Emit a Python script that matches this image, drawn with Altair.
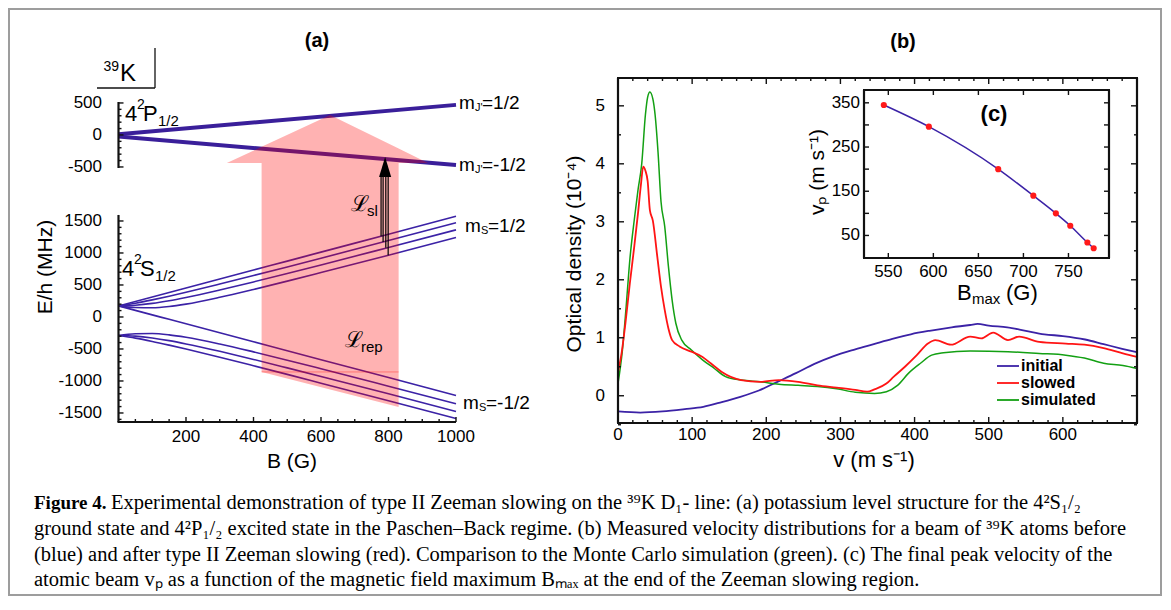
import altair as alt
import pandas as pd

SANS = "Liberation Sans"
SERIF = "Liberation Serif"
BLUE = "#3b22a6"
BLUE_DARK = "#3a1f9a"
RED = "#ff1414"
GREEN = "#13a013"
INK = "#111111"

OX, OY = 9, 9  # page position of the view origin
W, H = 1152, 586  # view size


def px(x):
    return x - OX


def py(y):
    return y - OY


# ---------------- panel (a): 39K levels ----------------
B_GRID = [0, 50, 100, 150, 200, 300, 400, 500, 600, 800, 1000]
S_UP_1 = [173, 243, 313, 383, 453, 593, 733, 873, 1013, 1293, 1573]
S_UP_2 = [173, 215, 267, 324, 385, 514, 647, 782, 918, 1194, 1471]
S_UP_3 = [173, 184, 212, 254, 305, 422, 548, 679, 813, 1086, 1361]
S_UP_4 = [173, 147, 144, 163, 201, 307, 430, 560, 694, 966, 1242]
S_DN_1 = [173, 103, 33, -37, -107, -247, -387, -527, -667, -947, -1227]
S_DN_2 = [-289, -263, -259, -279, -317, -422, -545, -675, -809, -1082, -1357]
S_DN_3 = [-289, -299, -328, -370, -421, -537, -663, -795, -929, -1201, -1476]
S_DN_4 = [-289, -330, -382, -440, -501, -629, -762, -897, -1034, -1309, -1586]

P_B = [0, 1000]
P_UP = [10, 470]
P_DN = [-25, -470]
P_SHIFT = 2844  # where the 0 MHz of the 4²P1/2 sub-axis sits on the shared scale

ARROW_B = [321, 424, 424, 627, 830, 830, 917]
ARROW_TOP = [2406, 2658, 2658, 3156, 2631, 2631, 2406]
ARROW_BOT = [2406, 2406, -859, -1132, -1406, 2406, 2406]

SL_B = [778, 784, 792, 799]
SL_E0 = [1262, 1172, 1080, 966]
SL_TOP = 2188
HEAD_B = [772, 790, 808]
HEAD_E = [2188, 2500, 2188]

# ---------------- panel (b): velocity distributions ----------------
V_INIT = [0, 30, 60, 90, 115, 140, 165, 190, 215, 240, 265, 290, 320, 345, 370,
          395, 420, 450, 475, 485, 500, 525, 550, 575, 600, 630, 655, 680, 700]
OD_INIT = [-0.27, -0.29, -0.27, -0.23, -0.19, -0.11, -0.02, 0.09, 0.24, 0.39, 0.55,
           0.68, 0.80, 0.89, 0.98, 1.06, 1.12, 1.18, 1.22, 1.24, 1.21, 1.18, 1.12,
           1.06, 1.03, 0.97, 0.89, 0.81, 0.75]

V_SLOW = [0, 5, 10, 16, 22, 27, 31, 34, 37, 40, 43, 47, 53, 58, 63, 68, 73, 83, 99,
          114, 125, 140, 166, 192, 217, 243, 269, 295, 320, 336, 346, 362, 372, 387,
          403, 418, 428, 449, 475, 490, 506, 526, 541, 568, 604, 629, 655, 681, 700]
OD_SLOW = [0.41, 0.75, 1.25, 1.94, 2.58, 3.15, 3.65, 3.95, 3.88, 3.70, 3.20, 3.02,
           2.40, 1.88, 1.48, 1.16, 0.96, 0.85, 0.76, 0.67, 0.56, 0.41, 0.27, 0.24,
           0.27, 0.24, 0.18, 0.14, 0.10, 0.07, 0.11, 0.21, 0.33, 0.50, 0.70, 0.90,
           0.96, 0.88, 1.02, 0.99, 1.09, 0.96, 1.02, 0.93, 0.90, 0.88, 0.82, 0.73, 0.67]

V_SIM = [0, 6, 11, 16, 22, 27, 32, 37, 40, 43, 47, 50, 54, 58, 63, 68, 73, 78, 86, 99,
         114, 130, 145, 166, 192, 217, 243, 269, 295, 320, 346, 362, 377, 392, 408,
         423, 439, 475, 526, 568, 604, 629, 655, 681, 700]
OD_SIM = [0.21, 0.79, 1.54, 2.35, 3.04, 3.55, 4.0, 4.85, 5.15, 5.24, 5.12, 4.85, 4.2,
          3.35, 2.92, 2.23, 1.65, 1.25, 0.96, 0.79, 0.62, 0.47, 0.33, 0.27, 0.24, 0.20,
          0.18, 0.16, 0.12, 0.06, 0.04, 0.07, 0.18, 0.39, 0.56, 0.70, 0.74, 0.77, 0.76,
          0.73, 0.70, 0.65, 0.56, 0.52, 0.47]

# ---------------- panel (c): peak velocity vs B_max ----------------
BMAX = [545, 595, 672, 711, 736, 752, 771, 778]
VP = [345, 296, 200, 140, 100, 72, 34, 21]

# ---------------- caption ----------------
CAP_BOLD = "Figure 4."
CAP_LINES = [
    "Experimental demonstration of type II Zeeman slowing on the  ³⁹K D₁- line: (a) potassium level structure for the 4²S₁/₂",
    "ground state and 4²P₁/₂ excited state in the Paschen–Back regime. (b) Measured velocity distributions for a beam of ³⁹K atoms before",
    "(blue) and after type II Zeeman slowing (red). Comparison to the Monte Carlo simulation (green). (c) The final peak velocity of the",
    "atomic beam vₚ as a function of the magnetic field maximum Bₘₐₓ at the end of the Zeeman slowing region.",
]

# ---------------- panel geometry (page coords of the plot boxes) ----------------
PA = {"xd": [0, 1000], "xp": [118.5, 456], "yd": [-1641, 3359], "yp": [422, 102]}
PB = {"xd": [0, 700], "xp": [618, 1137], "yd": [-0.47, 5.48], "yp": [423, 78]}
PC = {"xd": [523, 795], "xp": [864, 1109], "yd": [-1, 379], "yp": [258, 90]}


def S(P, ax):
    if ax == "x":
        return alt.Scale(domain=P["xd"], range=[px(v) for v in P["xp"]], nice=False, zero=False)
    return alt.Scale(domain=P["yd"], range=[py(v) for v in P["yp"]], nice=False, zero=False)


XA, YA = S(PA, "x"), S(PA, "y")
XB, YB = S(PB, "x"), S(PB, "y")
XC, YC = S(PC, "x"), S(PC, "y")


def sx(P, v):
    (d0, d1), (r0, r1) = P["xd"], P["xp"]
    return r0 + (v - d0) * (r1 - r0) / (d1 - d0)


def sy(P, v):
    (d0, d1), (r0, r1) = P["yd"], P["yp"]
    return r0 + (v - d0) * (r1 - r0) / (d1 - d0)


ONE = pd.DataFrame({"k": [0]})


def X(f, s):
    return alt.X(f, type="quantitative", scale=s, axis=None)


def Y(f, s):
    return alt.Y(f, type="quantitative", scale=s, axis=None)


def txt(s, x, y, size=17, weight="normal", align="left", angle=0, font=SANS):
    return alt.Chart(ONE).mark_text(
        text=s, fontSize=size, fontWeight=weight, align=align, baseline="middle",
        angle=angle, font=font, color="black",
    ).encode(x=alt.value(px(x)), y=alt.value(py(y)))


def seg(x1, y1, x2, y2, color=INK, w=1.5):
    xa, xb = sorted([int(round(px(x1))), int(round(px(x2)))])
    ya, yb = sorted([int(round(py(y1))), int(round(py(y2)))])
    return alt.Chart(ONE).mark_rule(color=color, strokeWidth=w).encode(
        x=alt.value(xa), y=alt.value(ya), x2=alt.value(xb), y2=alt.value(yb)
    )


def bar(x1, y1, x2, y2, w=2.0, color=INK):
    """A straight axis/frame line drawn as a thin filled rectangle (page coords)."""
    xa, xb = sorted([px(x1), px(x2)])
    ya, yb = sorted([py(y1), py(y2)])
    if xa == xb:
        xa, xb = xa - w / 2, xb + w / 2
    if ya == yb:
        ya, yb = ya - w / 2, yb + w / 2
    return alt.Chart(ONE).mark_rect(color=color, opacity=1).encode(
        x=alt.value(xa), y=alt.value(ya), x2=alt.value(xb), y2=alt.value(yb)
    )


def box(P, w=2.2):
    x0, x1 = P["xp"]
    y0, y1 = P["yp"]
    return [bar(x0 - 1, y0, x1 + 1, y0, w=w), bar(x0 - 1, y1, x1 + 1, y1, w=w),
            bar(x0, y0, x0, y1, w=w), bar(x1, y0, x1, y1, w=w)]


def xticks(P, vals, ypage, length, w=1.4):
    return [bar(sx(P, v), ypage, sx(P, v), ypage - length, w=w) for v in vals]


def yticks(P, vals, xpage, length, w=1.4):
    return [bar(xpage, sy(P, v), xpage + length, sy(P, v), w=w) for v in vals]


def ylabels(vals, texts, ys, xpage, size=17):
    df = pd.DataFrame({"v": vals, "t": texts})
    return alt.Chart(df).mark_text(
        align="right", baseline="middle", fontSize=size, font=SANS, color="black"
    ).encode(y=Y("v", ys), x=alt.value(px(xpage)), text="t:N")


def xlabels(vals, texts, xs, ypage, size=17):
    df = pd.DataFrame({"v": vals, "t": texts})
    return alt.Chart(df).mark_text(
        align="center", baseline="middle", fontSize=size, font=SANS, color="black"
    ).encode(x=X("v", xs), y=alt.value(py(ypage)), text="t:N")


layers = []

# ================= panel (a) =================
ground_rows = []
for name, vals in [("u1", S_UP_1), ("u2", S_UP_2), ("u3", S_UP_3), ("u4", S_UP_4),
                   ("d1", S_DN_1), ("d2", S_DN_2), ("d3", S_DN_3), ("d4", S_DN_4)]:
    for b, e in zip(B_GRID, vals):
        ground_rows.append({"c": name, "B": b, "E": e})
layers.append(
    alt.Chart(pd.DataFrame(ground_rows)).mark_line(color=BLUE, strokeWidth=1.6, interpolate="monotone")
    .encode(x=X("B", XA), y=Y("E", YA), detail="c:N")
)

exc_rows = []
for name, vals in [("p_up", P_UP), ("p_dn", P_DN)]:
    for b, e in zip(P_B, vals):
        exc_rows.append({"c": name, "B": b, "E": e + P_SHIFT})
layers.append(
    alt.Chart(pd.DataFrame(exc_rows)).mark_line(color=BLUE_DARK, strokeWidth=4)
    .encode(x=X("B", XA), y=Y("E", YA), detail="c:N")
)

# translucent pink laser arrow over the levels
df_arrow = pd.DataFrame({"B": ARROW_B, "top": ARROW_TOP, "bot": ARROW_BOT})
layers.append(
    alt.Chart(df_arrow).mark_area(color="#ff0000", opacity=0.3, interpolate="linear")
    .encode(x=X("B", XA), y=Y("top", YA), y2="bot:Q")
)
layers.append(
    alt.Chart(pd.DataFrame({"b0": [424], "b1": [830], "e": [-859]}))
    .mark_rule(color="#ff0000", opacity=0.35, strokeWidth=1)
    .encode(x=X("b0", XA), x2="b1:Q", y=Y("e", YA))
)

# L_sl arrows
df_sl = pd.DataFrame({"B": SL_B, "E0": SL_E0, "top": [SL_TOP] * len(SL_B)})
layers.append(
    alt.Chart(df_sl).mark_rule(color="black", strokeWidth=1.2)
    .encode(x=X("B", XA), y=Y("E0", YA), y2="top:Q")
)
df_head = pd.DataFrame({"B": HEAD_B, "E": HEAD_E, "base": [SL_TOP] * 3})
layers.append(
    alt.Chart(df_head).mark_area(color="black").encode(x=X("B", XA), y=Y("E", YA), y2="base:Q")
)

# axes of (a): broken y axis + x axis, inward ticks
A_Y_MAJOR = [-1500, -1000, -500, 0, 500, 1000, 1500]
A_Y_MINOR = [v for v in range(-1600, 1600, 100) if v % 500 != 0]
A_P_MAJOR = [-500, 0, 500]
A_P_MINOR = [v for v in range(-400, 500, 100) if v != 0]
A_X_MAJOR = [200, 400, 600, 800, 1000]
A_X_MINOR = [v for v in range(50, 1000, 50) if v % 200 != 0]
ax_x = PA["xp"][0]
layers += [
    bar(ax_x, sy(PA, -1641), ax_x, sy(PA, 1594), w=2.2),
    bar(ax_x, sy(PA, -516 + P_SHIFT), ax_x, sy(PA, 515 + P_SHIFT), w=2.2),
    bar(ax_x - 1, sy(PA, -1641), PA["xp"][1], sy(PA, -1641), w=2.2),
]
layers += yticks(PA, A_Y_MAJOR, ax_x, 5) + yticks(PA, A_Y_MINOR, ax_x, 3)
layers += yticks(PA, [v + P_SHIFT for v in A_P_MAJOR], ax_x, 5)
layers += yticks(PA, [v + P_SHIFT for v in A_P_MINOR], ax_x, 3)
layers += xticks(PA, A_X_MAJOR, 422, 5) + xticks(PA, A_X_MINOR, 422, 3)
layers.append(ylabels(A_Y_MAJOR, [str(v) for v in A_Y_MAJOR], YA, 102))
layers.append(ylabels([v + P_SHIFT for v in A_P_MAJOR], [str(v) for v in A_P_MAJOR], YA, 102))
layers.append(xlabels(A_X_MAJOR, [str(v) for v in A_X_MAJOR], XA, 437))

layers += [
    txt("(a)", 317, 41, size=20, weight="bold", align="center"),
    txt("B (G)", 292, 462, size=21, align="center"),
    txt("E/h (MHz)", 46, 267, size=21, align="center", angle=270),
    # 39K corner box
    txt("39", 119, 67, size=14, align="right"),
    txt("K", 120, 74, size=24),
    seg(97, 88, 155, 88, w=1.3),
    seg(155, 48, 155, 88, w=1.3),
    # state labels
    txt("4", 125, 114, size=22), txt("2", 137, 105, size=14), txt("P", 143, 114, size=22),
    txt("1/2", 158, 121, size=15),
    txt("4", 122, 269, size=22), txt("2", 134, 260, size=14), txt("S", 140, 269, size=22),
    txt("1/2", 155, 276, size=15),
    # m labels
    txt("m", 459, 103, size=19), txt("J'", 475, 108, size=11), txt("=1/2", 482, 103, size=19),
    txt("m", 459, 165, size=19), txt("J'", 475, 170, size=11), txt("=-1/2", 482, 165, size=19),
    txt("m", 465, 226, size=19), txt("S", 481, 231, size=11), txt("=1/2", 488, 226, size=19),
    txt("m", 463, 403, size=19), txt("S", 479, 408, size=11), txt("=-1/2", 486, 403, size=19),
    # laser labels
    txt("ℒ", 351, 204, size=22, font="DejaVu Serif"), txt("sl", 367, 211, size=15),
    txt("ℒ", 345, 340, size=22, font="DejaVu Serif"), txt("rep", 361, 347, size=15),
]

# ================= panel (b) =================
curves_b = []
for name, vs, ods in [("initial", V_INIT, OD_INIT), ("slowed", V_SLOW, OD_SLOW), ("simulated", V_SIM, OD_SIM)]:
    for v, o in zip(vs, ods):
        curves_b.append({"s": name, "v": v, "od": o})
df_b = pd.DataFrame(curves_b)
for name, col, w in [("initial", BLUE, 1.8), ("simulated", GREEN, 1.5), ("slowed", RED, 1.8)]:
    layers.append(
        alt.Chart(df_b).transform_filter(alt.datum.s == name)
        .mark_line(color=col, strokeWidth=w, interpolate="monotone")
        .encode(x=X("v", XB), y=Y("od", YB))
    )

B_X_MAJOR = list(range(0, 701, 100))
B_X_MINOR = [v for v in range(20, 700, 20) if v % 100 != 0]
B_Y_MAJOR = [0, 1, 2, 3, 4, 5]
B_Y_MINOR = [-0.5 + i for i in range(0, 6)]
bx0, bx1 = PB["xp"]
by0, by1 = PB["yp"]
layers += box(PB)
layers += xticks(PB, B_X_MAJOR, by0, 6) + xticks(PB, B_X_MINOR, by0, 3)
layers += xticks(PB, B_X_MAJOR, by1, -6) + xticks(PB, B_X_MINOR, by1, -3)
layers += yticks(PB, B_Y_MAJOR, bx0, 6) + yticks(PB, B_Y_MINOR, bx0, 3)
layers += yticks(PB, B_Y_MAJOR, bx1, -6) + yticks(PB, B_Y_MINOR, bx1, -3)
layers += [
    xlabels(B_X_MAJOR[:-1], [str(v) for v in B_X_MAJOR[:-1]], XB, 435),
    ylabels(B_Y_MAJOR, [str(v) for v in B_Y_MAJOR], YB, 605),
    txt("(b)", 903, 42, size=20, weight="bold", align="center"),
    txt("v (m s⁻¹)", 874, 460, size=22, align="center"),
    txt("Optical density (10⁻⁴)", 575, 254, size=21, align="center", angle=270),
]
# legend
for i, (name, col) in enumerate([("initial", BLUE), ("slowed", RED), ("simulated", GREEN)]):
    yy = 366 + 17 * i
    layers.append(seg(997, yy, 1019, yy, color=col, w=1.8))
    layers.append(txt(name, 1021, yy, size=16, weight="bold"))

# ================= inset (c) =================
df_c = pd.DataFrame({"b": BMAX, "vp": VP})
C_X_MAJOR = [550, 600, 650, 700, 750]
C_Y_TICKS = [50, 100, 150, 200, 250, 300, 350]
C_Y_LABELS = [50, 150, 250, 350]
cx0, cx1 = PC["xp"]
cy0, cy1 = PC["yp"]
layers += box(PC)
layers += xticks(PC, C_X_MAJOR, cy0, 5) + xticks(PC, C_X_MAJOR, cy1, -5)
layers += yticks(PC, C_Y_TICKS, cx0, 5) + yticks(PC, C_Y_TICKS, cx1, -5)
layers += [
    alt.Chart(df_c).mark_line(color=BLUE, strokeWidth=1.5, interpolate="monotone")
    .encode(x=X("b", XC), y=Y("vp", YC)),
    alt.Chart(df_c).mark_point(filled=True, color="#ff1a1a", size=38, opacity=1)
    .encode(x=X("b", XC), y=Y("vp", YC)),
    xlabels(C_X_MAJOR, [str(v) for v in C_X_MAJOR], XC, 272),
    ylabels(C_Y_LABELS, [str(v) for v in C_Y_LABELS], YC, 860),
    txt("(c)", 994, 114, size=22, weight="bold", align="center"),
    txt("vₚ (m s⁻¹)", 818, 172, size=21, align="center", angle=270),
    txt("B", 957, 293, size=22), txt("max", 972, 299, size=15), txt("(G)", 1006, 293, size=22),
]

# ================= caption =================
CAP_Y = [503, 529, 555, 580]
layers.append(txt(CAP_BOLD, 34, CAP_Y[0], size=19, weight="bold", font=SERIF))
layers.append(txt(CAP_LINES[0], 111, CAP_Y[0], size=20.5, font=SERIF))
for line, yy in zip(CAP_LINES[1:], CAP_Y[1:]):
    layers.append(txt(line, 34, yy, size=20.5, font=SERIF))

chart = (
    alt.layer(*layers)
    .resolve_scale(x="independent", y="independent")
    .properties(width=W, height=H, padding=1, autosize=alt.AutoSizeParams(type="none"))
    .configure_view(stroke="#9d9d9d", strokeWidth=2)
)

chart.save("out.html", embed_options={"renderer": "svg", "actions": False})
